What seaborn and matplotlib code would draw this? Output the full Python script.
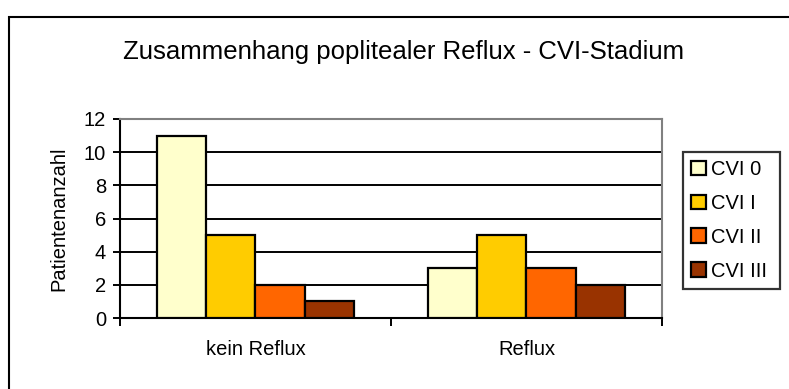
import matplotlib
matplotlib.use("Agg")
import matplotlib.pyplot as plt
from matplotlib.patches import Rectangle
import seaborn as sns
import pandas as pd

categories = ["kein Reflux", "Reflux"]
stages = ["CVI 0", "CVI I", "CVI II", "CVI III"]
values_kein_reflux = [11, 5, 2, 1]
values_reflux = [3, 5, 3, 2]
stage_colors = ["#FFFFCC", "#FFCC00", "#FF6600", "#993300"]
y_ticks = [0, 2, 4, 6, 8, 10, 12]

rows = []
for cat, vals in zip(categories, [values_kein_reflux, values_reflux]):
    for st, v in zip(stages, vals):
        rows.append({"Gruppe": cat, "Stadium": st, "Anzahl": v})
df = pd.DataFrame(rows)

sns.set_theme(style="white")
plt.rcParams["font.family"] = ["Liberation Sans", "DejaVu Sans"]
for key in ["text.color", "axes.labelcolor", "xtick.color", "ytick.color"]:
    plt.rcParams[key] = "black"

fig = plt.figure(figsize=(7.89, 3.89), dpi=100)
ax = fig.add_axes([120 / 789, 1 - 318 / 389, 542 / 789, 199 / 389])

sns.barplot(data=df, x="Gruppe", y="Anzahl", hue="Stadium", order=categories,
            hue_order=stages, palette=stage_colors, width=0.73, saturation=1,
            edgecolor="black", linewidth=1.6, ax=ax, zorder=3)

ax.set_xlim(-0.5, 1.5)
ax.set_ylim(0, 12)
ax.set_yticks(y_ticks)
ax.set_yticklabels([str(t) for t in y_ticks], fontsize=14.5)
for t in y_ticks[1:-1]:
    ax.axhline(t, color="black", lw=1.4, zorder=1)

# category boundaries carry the tick marks, labels sit between them
ax.set_xticks([-0.5, 0.5, 1.5])
ax.set_xticklabels(["", "", ""])
ax.set_xticks([0, 1], minor=True)
ax.set_xticklabels(categories, minor=True, fontsize=14.5)
ax.tick_params(axis="x", which="major", direction="out", length=6, width=1.4, color="black", bottom=True)
ax.tick_params(axis="x", which="minor", length=0, pad=16)
ax.tick_params(axis="y", direction="out", length=5, width=1.4, color="black", left=True, pad=5)

ax.set_xlabel("")
ax.set_ylabel("Patientenanzahl", fontsize=14.5, labelpad=11)

for side in ["left", "bottom"]:
    ax.spines[side].set_color("black")
    ax.spines[side].set_linewidth(1.5)
for side in ["top", "right"]:
    ax.spines[side].set_color("#808080")
    ax.spines[side].set_linewidth(1.5)
ax.set_facecolor("white")

leg = ax.legend(loc="upper left",
                bbox_to_anchor=(683 / 789, 1 - 287 / 389, 97 / 789, 135 / 389),
                bbox_transform=fig.transFigure, mode="expand",
                frameon=True, fancybox=False,
                fontsize=14.5, handlelength=0.75, handleheight=0.75, handletextpad=0.25,
                labelspacing=0.74, borderpad=0.4, borderaxespad=0)
leg.get_frame().set_edgecolor("black")
leg.get_frame().set_linewidth(1.6)
for h in leg.legend_handles:
    h.set_edgecolor("black")
    h.set_linewidth(1.6)

fig.text(404 / 789, 1 - 59.5 / 389, "Zusammenhang poplitealer Reflux - CVI-Stadium",
         ha="center", va="baseline", fontsize=18.5)

fig.patches.append(Rectangle((9 / 789, -0.1), 1.2, 1 - 17 / 389 + 0.1,
                             transform=fig.transFigure, fill=False,
                             edgecolor="black", linewidth=1.5))

fig.savefig("out.png", dpi=100)
